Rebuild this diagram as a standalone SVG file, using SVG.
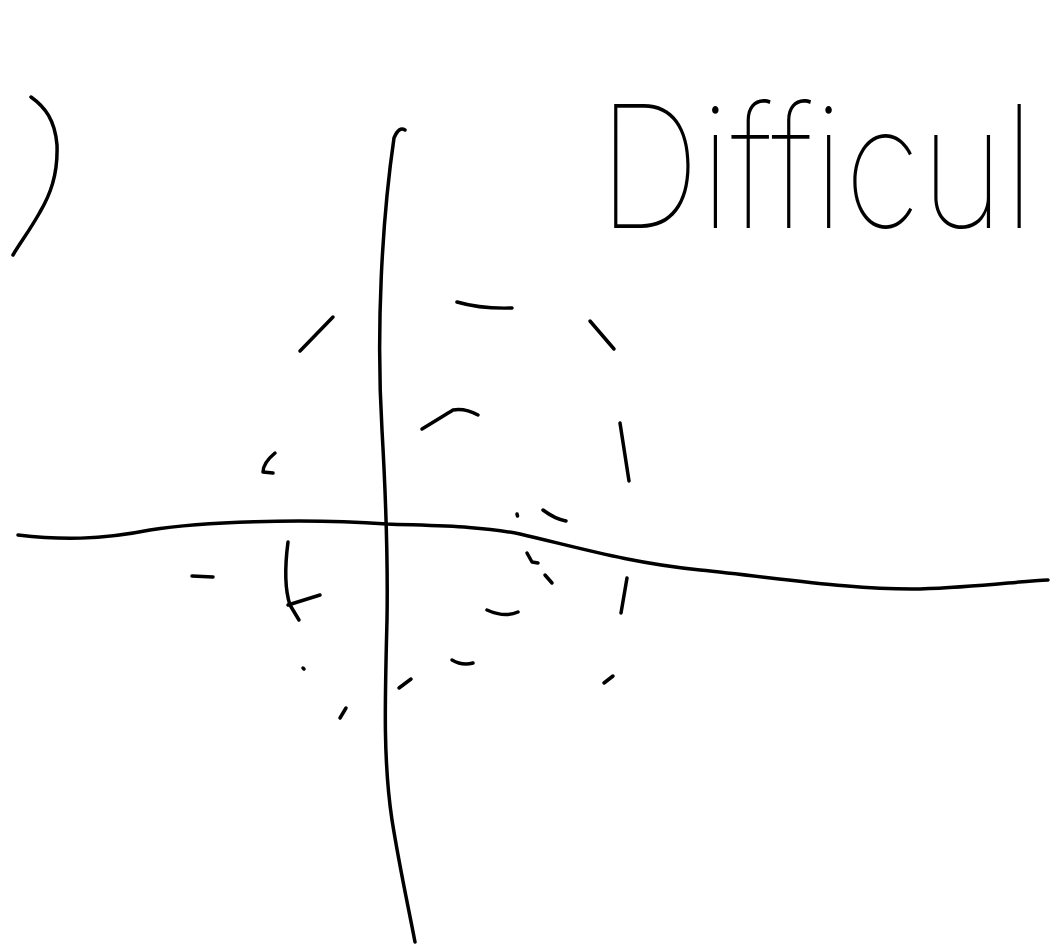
<svg xmlns="http://www.w3.org/2000/svg" width="1050" height="947" viewBox="0 0 1050 947">
<style>
.s{fill:none;stroke:#000;stroke-width:3.5;stroke-linecap:round;stroke-linejoin:round}
.t{font-family:Inter,Lato,"Open Sans","Liberation Sans",sans-serif;font-weight:100;font-size:170px;fill:#000}
</style>
<rect width="1050" height="947" fill="#fff"/>
<g id="axes">
<path class="s" d="M405,130 Q399,126 394,138 C382,220 376,330 382,430 C386,500 388,560 387,620 C385,700 383,760 392,820 C400,870 408,905 415,942"/>
<path class="s" d="M18,535 C60,540 100,540 150,530 C200,522 300,518 387,524 C440,526 480,526 520,534 C580,548 630,563 700,570 C780,578 850,590 920,589 C980,587 1020,581 1048,580"/>
</g>
<g id="paren">
<path class="s" d="M31,97 C45,107 55,120 57,145 C58,175 50,195 40,212 C30,230 20,243 13,255"/>
</g>
<g id="dashes">
<path class="s" d="M300,351 L333,317"/>
<path class="s" d="M457,302 Q481,309 512,308"/>
<path class="s" d="M590,321 L614,349"/>
<path class="s" d="M422,429 Q445,415 453,410 Q465,408 478,415"/>
<path class="s" d="M620,423 L629,481"/>
<path class="s" d="M275,453 Q263,463 263,472 L273,473"/>
<path class="s" d="M517,514 L517.5,516"/>
<path class="s" d="M543,510 Q555,519 566,521"/>
<path class="s" d="M527,553 L532,562 L538,563"/>
<path class="s" d="M545,575 L552,583"/>
<path class="s" d="M627,578 L621,613"/>
<path class="s" d="M487,610 Q505,618 518,612"/>
<path class="s" d="M452,660 Q462,666 473,663"/>
<path class="s" d="M604,683 L613,676"/>
<path class="s" d="M399,688 L411,679"/>
<path class="s" d="M303,668 L304,669"/>
<path class="s" d="M340,718 L346,708"/>
<path class="s" d="M192,576 L213,577"/>
<path class="s" d="M288,542 C285,565 285,590 290,605 L299,620"/>
<path class="s" d="M288,605 L320,595"/>
</g>
<g id="label">
<text class="t" transform="translate(598,228) scale(0.84,1)" x="0" y="0">Difficul</text>
</g>
</svg>
